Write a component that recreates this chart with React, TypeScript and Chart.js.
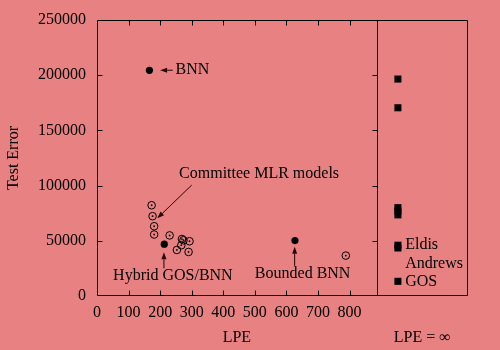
import React, { useEffect, useRef } from 'react';
import { Chart, registerables } from 'chart.js';

Chart.register(...registerables);

// ---- data ----
const X_MAX = 1175;
const X_DIVIDER = 888;
const X_INF = 953;

const xTickValues = [0, 100, 200, 300, 400, 500, 600, 700, 800];
const yTickValues = [0, 50000, 100000, 150000, 200000, 250000];

// open circles (committee MLR models and other)
const openX = [173, 176, 181, 181, 230, 269, 274, 293, 267, 253, 290, 788];
const openY = [82200, 72300, 63200, 55700, 54900, 51600, 50500, 49600, 46000, 41700, 39900, 36600];

// filled circles: BNN, Hybrid GOS/BNN, Bounded BNN
const filledX = [166, 213, 627];
const filledY = [204400, 46900, 50200];

// LPE = infinity squares
const infY = [196500, 170500, 80000, 77000, 73500, 46000, 43500, 13300];

// annotation texts (data coords, left aligned)
const labelTexts = ['BNN', 'Committee MLR models', 'Hybrid GOS/BNN', 'Bounded BNN', 'Eldis', 'Andrews', 'GOS'];
const labelX = [249, 260, 51, 500, 976, 976, 976];
const labelY = [204700, 110500, 18400, 19700, 46200, 29600, 13000];

// arrows: from (x1,y1) to head (x2,y2)
const arrowFromX = [240, 300, 212, 626];
const arrowFromY = [204500, 100500, 25100, 27400];
const arrowToX = [200, 191, 212, 626];
const arrowToY = [204500, 70400, 39600, 44700];

const FONT = "'Liberation Serif', 'Times New Roman', serif";

const overlay = {
  id: 'overlay',
  afterDraw(chart: any) {
    const { ctx, chartArea: a, scales } = chart;
    const xs = scales.x;
    const ys = scales.y;
    const L = Math.round(a.left) + 0.5;
    const R = Math.round(a.right) - 0.5;
    const T = Math.round(a.top) + 0.5;
    const B = Math.round(a.bottom) - 0.5;
    const D = Math.round(xs.getPixelForValue(X_DIVIDER)) + 0.5;
    ctx.save();
    ctx.strokeStyle = '#000';
    ctx.lineWidth = 1;
    ctx.beginPath();
    ctx.rect(L, T, R - L, B - T);
    ctx.moveTo(D, T);
    ctx.lineTo(D, B);
    // x ticks (inside, mirrored)
    xTickValues.forEach((v) => {
      if (v === 0) return;
      const px = Math.round(xs.getPixelForValue(v)) + 0.5;
      ctx.moveTo(px, B);
      ctx.lineTo(px, B - 5);
      ctx.moveTo(px, T);
      ctx.lineTo(px, T + 5);
    });
    // y ticks
    yTickValues.forEach((v) => {
      if (v === 0 || v === 250000) return;
      const py = Math.round(ys.getPixelForValue(v)) + 0.5;
      ctx.moveTo(L, py);
      ctx.lineTo(L + 5, py);
      ctx.moveTo(D, py);
      ctx.lineTo(D - 5, py);
    });
    ctx.stroke();

    // arrows
    ctx.strokeStyle = '#2a0000';
    ctx.fillStyle = '#2a0000';
    for (let i = 0; i < arrowFromX.length; i++) {
      const x1 = xs.getPixelForValue(arrowFromX[i]);
      const y1 = ys.getPixelForValue(arrowFromY[i]);
      const x2 = xs.getPixelForValue(arrowToX[i]);
      const y2 = ys.getPixelForValue(arrowToY[i]);
      const ang = Math.atan2(y2 - y1, x2 - x1);
      const hl = 7;
      const hw = 2.5;
      const bx = x2 - hl * Math.cos(ang);
      const by = y2 - hl * Math.sin(ang);
      ctx.beginPath();
      ctx.moveTo(x1, y1);
      ctx.lineTo(bx, by);
      ctx.stroke();
      ctx.beginPath();
      ctx.moveTo(x2, y2);
      ctx.lineTo(bx + hw * Math.sin(ang), by - hw * Math.cos(ang));
      ctx.lineTo(bx - hw * Math.sin(ang), by + hw * Math.cos(ang));
      ctx.closePath();
      ctx.fill();
    }

    ctx.fillStyle = '#000';
    ctx.font = `16px ${FONT}`;
    ctx.textBaseline = 'middle';

    // tick labels
    ctx.textAlign = 'center';
    xTickValues.forEach((v) => {
      ctx.fillText(String(v), xs.getPixelForValue(v), a.bottom + 17);
    });
    ctx.textAlign = 'right';
    yTickValues.forEach((v) => {
      ctx.fillText(String(v), a.left - 11, ys.getPixelForValue(v));
    });

    // labels
    ctx.textAlign = 'left';
    labelTexts.forEach((t, i) => {
      ctx.fillText(t, xs.getPixelForValue(labelX[i]), ys.getPixelForValue(labelY[i]));
    });

    // axis titles
    ctx.textAlign = 'center';
    ctx.fillText('LPE', xs.getPixelForValue(443), a.bottom + 42);
    ctx.fillText('LPE = \u221E', xs.getPixelForValue(1030), a.bottom + 42);
    ctx.translate(14, (a.top + a.bottom) / 2);
    ctx.rotate(-Math.PI / 2);
    ctx.fillText('Test Error', 0, 0);
    ctx.restore();
  },
};

export default function App() {
  const ref = useRef<HTMLCanvasElement | null>(null);
  useEffect(() => {
    document.body.style.margin = '0';
    if (!ref.current) return;
    const openPts = openX.map((x, i) => ({ x, y: openY[i] }));
    const filledPts = filledX.map((x, i) => ({ x, y: filledY[i] }));
    const infPts = infY.map((y) => ({ x: X_INF, y }));
    const chart = new Chart(ref.current, {
      type: 'scatter',
      data: {
        datasets: [
          {
            data: openPts,
            pointStyle: 'circle',
            pointRadius: 3.8,
            pointBorderWidth: 1,
            pointBorderColor: '#000',
            pointBackgroundColor: 'rgba(0,0,0,0)',
          },
          {
            data: openPts,
            pointStyle: 'circle',
            pointRadius: 0.9,
            pointBorderWidth: 0,
            pointBackgroundColor: '#000',
          },
          {
            data: filledPts,
            pointStyle: 'circle',
            pointRadius: 3.6,
            pointBorderWidth: 0,
            pointBackgroundColor: '#000',
          },
          {
            data: infPts,
            pointStyle: 'rect',
            pointRadius: 5,
            pointBorderWidth: 0,
            pointBackgroundColor: '#000',
          },
        ],
      },
      options: {
        animation: false,
        responsive: true,
        maintainAspectRatio: false,
        events: [],
        layout: { padding: { top: 20, right: 32, left: 0, bottom: 0 } },
        plugins: { legend: { display: false }, tooltip: { enabled: false } },
        scales: {
          x: {
            type: 'linear',
            min: 0,
            max: X_MAX,
            afterBuildTicks: (s: any) => {
              s.ticks = xTickValues.map((v) => ({ value: v }));
            },
            afterFit: (s: any) => {
              s.height = 54;
            },
            grid: { display: false, drawTicks: false },
            border: { display: false },
            ticks: { display: false },
          },
          y: {
            type: 'linear',
            min: 0,
            max: 250000,
            afterBuildTicks: (s: any) => {
              s.ticks = yTickValues.map((v) => ({ value: v }));
            },
            afterFit: (s: any) => {
              s.width = 97;
            },
            grid: { display: false, drawTicks: false },
            border: { display: false },
            ticks: { display: false },
          },
        },
      } as any,
      plugins: [overlay],
    });
    return () => chart.destroy();
  }, []);
  return (
    <div style={{ width: 500, height: 350, background: '#e88282', position: 'relative' }}>
      <canvas ref={ref} />
    </div>
  );
}
